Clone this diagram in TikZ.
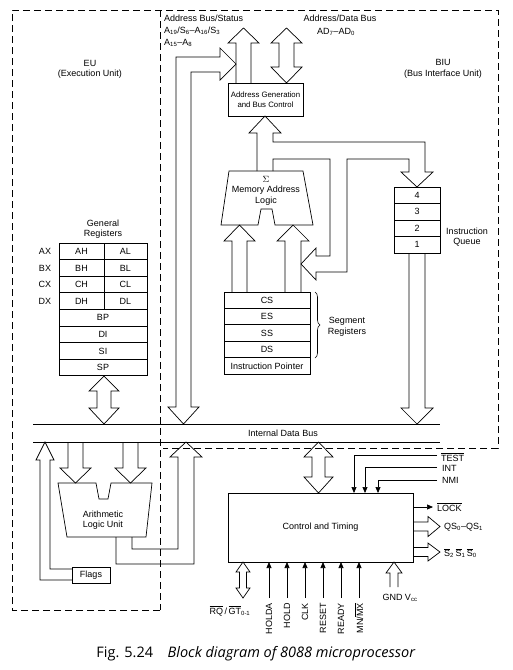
\documentclass[tikz,border=0pt]{standalone}
\usepackage{fontspec}
\setmainfont{Liberation Sans}
\newfontfamily\capfont{Open Sans}
\usetikzlibrary{arrows.meta,decorations.pathreplacing}
\newcommand{\ovl}[1]{$\overline{\hbox{#1}}$}
\begin{document}
\begin{tikzpicture}[x=1pt,y=-1pt,
  every node/.style={inner sep=0pt, font=\fontsize{9}{10.5}\selectfont},
  box/.style={draw, line width=0.7pt, align=center},
  blk/.style={draw, line width=0.7pt, line join=miter},
  dbox/.style={draw, line width=0.7pt, dash pattern=on 7pt off 4pt},
  sig/.style={line width=0.7pt, -{Triangle[length=6pt,width=5pt]}},
  bus/.style={line width=0.7pt}]
\useasboundingbox (0,0) rectangle (513,670);

% dashed unit borders
\draw[dbox] (160,610) -- (12,610) -- (12,10) -- (498,10) -- (498,448) -- (163,448);
\draw[dbox] (160,10) -- (160,610);

% labels of units
\node at (90,63) {EU};
\node at (90,74) {(Execution Unit)};
\node at (443,62) {BIU};
\node at (443,74) {(Bus Interface Unit)};

% bus labels
\node[anchor=west] at (164,18) {Address Bus/Status};
\node[anchor=west] at (164,31) {A\textsubscript{19}/S\textsubscript{6}–A\textsubscript{16}/S\textsubscript{3}};
\node[anchor=west] at (164,43) {A\textsubscript{15}–A\textsubscript{8}};
\node at (340,18) {Address/Data Bus};
\node at (336,32) {AD\textsubscript{7}–AD\textsubscript{0}};

% Address generation box
\node[box, minimum width=75pt, minimum height=33pt, font=\fontsize{7.8}{9.5}\selectfont] (agen) at (265.5,99.5) {Address Generation\\and Bus Control};

% address bus up arrow
\draw[blk] (236,83) -- (236,43) -- (228,43) -- (243.5,28) -- (259,43) -- (251,43) -- (251,83);
% address/data double arrow
\draw[blk] (286.5,28) -- (302,43) -- (294,43) -- (294,67) -- (302,67) -- (286.5,83) -- (271,67) -- (279,67) -- (279,43) -- (271,43) -- cycle;

% EU bus to address bus (bent, double headed)
\draw[blk] (183.5,424) -- (168,407) -- (176,407) -- (176,57) -- (220,57) -- (220,48) -- (236,64) -- (220,80) -- (220,72) -- (191,72) -- (191,407) -- (199,407) -- cycle;

% Memory address logic
\draw[blk] (229,171) -- (303,171) -- (313,225) -- (275,225) -- (272,209) -- (261,209) -- (258,225) -- (221,225) -- cycle;
\node at (266,179) {$\Sigma$};
\node at (266,190) {Memory Address};
\node at (266,201) {Logic};

% compound arrow: MAL -> address gen, -> queue, -> segment
\draw[blk] (257,171) -- (257,133) -- (249,133) -- (265,116) -- (281,133) -- (273,133) -- (273,142) -- (425,142) -- (425,172) -- (433,172) -- (417,187) -- (401,172) -- (409,172) -- (409,159) -- (347,159) -- (347,272) -- (316,272) -- (316,280) -- (301,264) -- (316,248) -- (316,256) -- (330,256) -- (330,159) -- (273,159) -- (273,171);

% segment registers
\foreach \n/\t [count=\i] in {cs/CS, es/ES, ss/SS, ds/DS, ip/Instruction Pointer}
  \node[box, minimum width=86pt, minimum height=16.4pt] (\n) at (267,{292+16.4*(\i-0.5)}) {\t};
\draw[decorate, decoration={brace, amplitude=5pt}, line width=0.6pt] (315,292) -- (315,358);
\node at (347,321) {Segment};
\node at (347,332) {Registers};

% arrows from segment registers to MAL
\draw[blk] (232,292) -- (232,241) -- (224,241) -- (239.5,225) -- (255,241) -- (247,241) -- (247,292);
\draw[blk] (285,292) -- (285,241) -- (277,241) -- (293,225) -- (309,241) -- (301,241) -- (301,292);

% instruction queue
\foreach \n/\t [count=\i] in {q4/4, q3/3, q2/2, q1/1}
  \node[box, minimum width=46pt, minimum height=16.5pt] (\n) at (417,{187+16.5*(\i-0.5)}) {\t};
\node at (467,231) {Instruction};
\node at (467,242) {Queue};
\draw[blk] (409,253) -- (409,408) -- (401,408) -- (417,424) -- (433,408) -- (425,408) -- (425,253);

% general registers
\node at (103,223) {General};
\node at (103,234) {Registers};
\foreach \a/\b/\c [count=\i] in {AX/AH/AL, BX/BH/BL, CX/CH/CL, DX/DH/DL} {
  \node[box, minimum width=45pt, minimum height=16.6pt] (\b) at (81.5,{243+16.6*(\i-0.5)}) {\b};
  \node[box, minimum width=43pt, minimum height=16.6pt] (\c) at (125.5,{243+16.6*(\i-0.5)}) {\c};
  \node at (45,{243+16.6*(\i-0.5)}) {\a};
}
\foreach \t [count=\i from 5] in {BP, DI, SI, SP}
  \node[box, minimum width=88pt, minimum height=16.6pt] (\t) at (103,{243+16.6*(\i-0.5)}) {\t};
\draw[blk] (104,376) -- (119,391) -- (111,391) -- (111,408) -- (119,408) -- (104,424) -- (89,408) -- (97,408) -- (97,391) -- (89,391) -- cycle;

% internal data bus
\draw[bus] (33,424.5) -- (440,424.5);
\draw[bus] (33,442) -- (440,442);
\node at (283,433) {Internal Data Bus};

% ALU
\draw[blk] (58,483) -- (96,483) -- (99,499) -- (108,499) -- (111,483) -- (152,483) -- (146,537) -- (67,537) -- cycle;
\node at (103,514) {Arithmetic};
\node at (103,525) {Logic Unit};
\draw[blk] (68,442) -- (68,468) -- (60,468) -- (75.5,483) -- (91,468) -- (83,468) -- (83,442);
\draw[blk] (123,442) -- (123,468) -- (115,468) -- (130.5,483) -- (146,468) -- (138,468) -- (138,442);
\draw[blk] (116,537) -- (116,564) -- (194,564) -- (194,457) -- (202,457) -- (186,442) -- (170,457) -- (178,457) -- (178,549) -- (132,549) -- (132,537);

% Flags
\node[box, minimum width=38pt, minimum height=16.5pt] (flags) at (91,575.5) {Flags};
\draw[blk] (72,580) -- (40,580) -- (40,460) -- (36,460) -- (45,442) -- (54,460) -- (50,460) -- (50,569) -- (72,569);

% Control and timing
\node[box, minimum width=185pt, minimum height=69pt] (ctl) at (320.5,527.5) {Control and Timing};
\draw[blk] (318.5,442) -- (333,457) -- (325,457) -- (325,477) -- (333,477) -- (318.5,493) -- (304,477) -- (312,477) -- (312,457) -- (304,457) -- cycle;

% control inputs from right-top
\draw[sig] (437,455) -- (354,455) -- (354,493);
\draw[sig] (437,467) -- (365,467) -- (365,493);
\draw[sig] (437,480) -- (378,480) -- (378,493);
\node[anchor=west] at (441,457) {\ovl{TEST}};
\node[anchor=west] at (442,468) {INT};
\node[anchor=west] at (442,480) {NMI};

% outputs on right
\draw[sig] (413,507) -- (433,507);
\node[anchor=west] at (437,507) {\ovl{LOCK}};
\draw[blk] (413,522) -- (428,522) -- (428,516.5) -- (440,526.5) -- (428,536.5) -- (428,531) -- (413,531);
\node[anchor=west] at (444,527) {QS\textsubscript{0}–QS\textsubscript{1}};
\draw[blk] (413,547.5) -- (428,547.5) -- (428,543) -- (440,552) -- (428,561) -- (428,556.5) -- (413,556.5);
\node[anchor=west] at (444,553) {\ovl{S}\textsubscript{2}\,\ovl{S}\textsubscript{1}\,\ovl{S}\textsubscript{0}};

% GND Vcc
\draw[blk] (390,587) -- (390,573) -- (386,573) -- (394,562) -- (402,573) -- (398,573) -- (398,587);
\node at (400,598) {GND V\textsubscript{cc}};

% RQ/GT
\draw[blk] (243,562) -- (250,572) -- (246.5,572) -- (246.5,588) -- (250,588) -- (243,598) -- (236,588) -- (239.5,588) -- (239.5,572) -- (236,572) -- cycle;
\node at (230,611) {\ovl{RQ}\,/\,\ovl{GT}\textsubscript{0-1}};

% bottom inputs
\foreach \x/\t in {269/HOLDA, 287/HOLD, 305/CLK, 323/RESET, 341/READY} {
  \draw[sig] (\x,598) -- (\x,562);
  \node[rotate=90, anchor=east] at (\x,603) {\t};
}
\draw[sig] (359,598) -- (359,562);
\node[rotate=90, anchor=east] at (359,603) {MN/\ovl{MX}};

% caption
\node[font=\capfont\fontsize{14.5}{16}\selectfont] at (256,654) {Fig. 5.24\quad\textit{Block diagram of 8088 microprocessor}};
\end{tikzpicture}
\end{document}
